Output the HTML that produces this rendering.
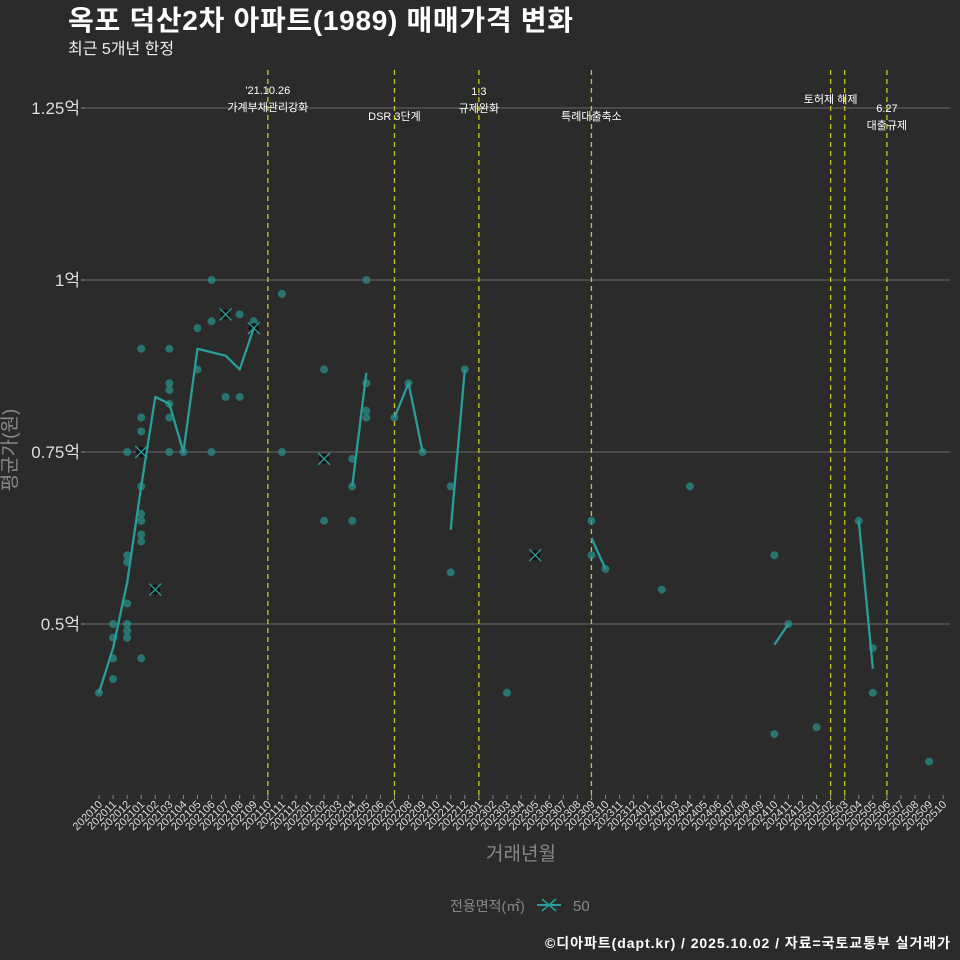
<!DOCTYPE html>
<html><head><meta charset="utf-8">
<style>
html,body{margin:0;padding:0;background:#2b2b2b;}
svg{display:block;font-family:"Liberation Sans","Noto Sans CJK KR",sans-serif;}
</style></head>
<body>
<svg id="chart" width="960" height="960" viewBox="0 0 960 960" xmlns="http://www.w3.org/2000/svg">
<rect width="960" height="960" fill="#2b2b2b"/>
<text x="68" y="30" fill="#ffffff" font-size="28" font-weight="bold" textLength="505">옥포 덕산2차 아파트(1989) 매매가격 변화</text>
<text x="68" y="54" fill="#eeeeee" font-size="16">최근 5개년 한정</text>
<g id="grid"></g>
<g id="vlines"></g>
<g id="points"></g>
<g id="line"></g>
<g id="xaxis"></g>
<text x="16" y="450" fill="#888888" font-size="19" text-anchor="middle" transform="rotate(-90 16 450)">평균가(원)</text>
<text x="521" y="860" fill="#888888" font-size="19" text-anchor="middle">거래년월</text>
<g>
<text x="450" y="911" fill="#888888" font-size="14">전용면적(㎡)</text>
<g>
<line x1="537" y1="905" x2="561" y2="905" stroke="#2a9d9a" stroke-width="2"/>
<line x1="542" y1="899" x2="556" y2="911" stroke="#2a9d9a" stroke-width="1.5"/>
<line x1="542" y1="911" x2="556" y2="899" stroke="#2a9d9a" stroke-width="1.5"/>
</g>
<text x="573" y="911" fill="#888888" font-size="15">50</text>
</g>
<text x="950" y="948" fill="#ffffff" font-size="14" font-weight="bold" text-anchor="end" textLength="405">©디아파트(dapt.kr) / 2025.10.02 / 자료=국토교통부 실거래가</text>
</svg>
<script>
const yTicks=[1.25,1.0,0.75,0.5];
const yTickLabels=["1.25억","1억","0.75억","0.5억"];
const months=[];
for(let y=2020,m=10;months.length<61;){months.push(""+y+(m<10?"0"+m:m));m++;if(m>12){m=1;y++;}}
const pointMonths=[0,1,1,1,1,2,2,2,2,2,2,2,3,3,3,3,3,3,3,3,3,3,5,5,5,5,5,5,6,7,7,8,8,8,9,10,10,11,13,13,16,16,18,18,18,19,19,19,19,21,22,23,25,25,26,29,35,35,36,40,42,48,48,49,51,54,55,55,59];
const pointValues=[0.40,0.50,0.48,0.45,0.42,0.75,0.60,0.59,0.53,0.50,0.49,0.48,0.90,0.80,0.78,0.70,0.66,0.65,0.63,0.62,0.45,0.75,0.90,0.85,0.84,0.82,0.80,0.75,0.75,0.93,0.87,1.00,0.94,0.75,0.83,0.95,0.83,0.94,0.98,0.75,0.87,0.65,0.74,0.70,0.65,1.00,0.85,0.81,0.80,0.80,0.85,0.75,0.70,0.575,0.87,0.40,0.65,0.60,0.58,0.55,0.70,0.60,0.34,0.50,0.35,0.65,0.465,0.40,0.30];
const crossMonths=[3,4,9,11,16,31];
const crossValues=[0.75,0.55,0.95,0.93,0.74,0.60];
const lineSegMonths=[[0,1,2,3,4,5,6,7,8,9,10,11],[18,19],[21,22,23],[25,26],[35,36],[48,49],[54,55]];
const lineSegValues=[[0.40,0.465,0.56,0.70,0.83,0.82,0.75,0.90,0.895,0.89,0.87,0.93],[0.70,0.865],[0.80,0.85,0.75],[0.637,0.87],[0.625,0.58],[0.47,0.50],[0.65,0.435]];
const eventMonths=[12,21,27,35,52,53,56];
const eventLabels=[["'21.10.26","가계부채관리강화"],["DSR 3단계"],["1.3","규제완화"],["특례대출축소"],["토허제 해제"],[],["6.27","대출규제"]];
const eventLabelY=[[94,111],[120],[95,112],[120],[103],[],[112,129]];

const X=i=>99+i*14.07;
const Y=v=>280-(v-1)*688;
const NS="http://www.w3.org/2000/svg";
function mk(tag,attrs,parent,text){const e=document.createElementNS(NS,tag);for(const k in attrs)e.setAttribute(k,attrs[k]);if(text!==undefined)e.textContent=text;parent.appendChild(e);return e;}
const grid=document.getElementById('grid');
yTicks.forEach((t,i)=>{
 const l=mk('line',{x1:85,x2:950,y1:Y(t),y2:Y(t),stroke:'#5e5e5e','stroke-width':1.2},grid);
 
 
 const tk=mk('line',{x1:81,x2:85,y1:Y(t),y2:Y(t),stroke:'#888','stroke-width':1},grid);
 
 
 const tx=mk('text',{x:80,y:Y(t)+6,fill:'#dddddd','font-size':17,'text-anchor':'end'},grid,yTickLabels[i]);
 
 
});
const vl=document.getElementById('vlines');
eventMonths.forEach((m,i)=>{
 const l=mk('line',{x1:X(m),x2:X(m),y1:70,y2:800,stroke:'#c8c820','stroke-width':1.3,'stroke-dasharray':'5,4'},vl);
 
 
 eventLabels[i].forEach((s,j)=>{
  const t=mk('text',{x:X(m),y:eventLabelY[i][j],fill:'#ffffff','font-size':11,'text-anchor':'middle'},vl,s);
  
  
 });
});
const pts=document.getElementById('points');
pointMonths.forEach((m,i)=>{
 const c=mk('circle',{cx:X(m),cy:Y(pointValues[i]),r:4,fill:'#2a8c88','fill-opacity':0.75},pts);
 
 
});
crossMonths.forEach((m,i)=>{
 const g=mk('g',{},pts);
 
 
 const cx=X(m),cy=Y(crossValues[i]);
 mk('circle',{cx:cx,cy:cy,r:5,fill:'#111'},g);
 mk('line',{x1:cx-6,y1:cy-6,x2:cx+6,y2:cy+6,stroke:'#2a9d9a','stroke-width':1.3},g);
 mk('line',{x1:cx-6,y1:cy+6,x2:cx+6,y2:cy-6,stroke:'#2a9d9a','stroke-width':1.3},g);
});
const ln=document.getElementById('line');
lineSegMonths.forEach((ms,k)=>{
 const d=ms.map((m,i)=>(i?'L':'M')+X(m)+','+Y(lineSegValues[k][i])).join(' ');
 const p=mk('path',{d:d,fill:'none',stroke:'#2a9d9a','stroke-width':2.3,'stroke-linejoin':'round'},ln);
 
 
});
const xa=document.getElementById('xaxis');
months.forEach((m,i)=>{
 const tk=mk('line',{x1:X(i),x2:X(i),y1:795,y2:799,stroke:'#888','stroke-width':1},xa);
 
 
 const t=mk('text',{x:X(i)+4,y:805,fill:'#dddddd','font-size':11,'text-anchor':'end',transform:'rotate(-45 '+(X(i)+4)+' 805)'},xa,m);
 
 
});
</script>
</body></html>
